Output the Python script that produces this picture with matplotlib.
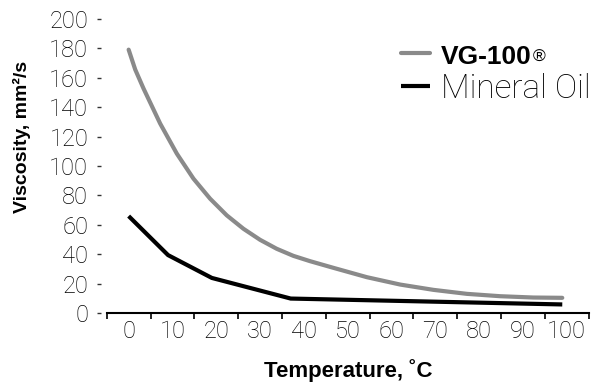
import matplotlib
matplotlib.use('Agg')
import matplotlib.pyplot as plt
import numpy as np

# 温度-粘度数据
temp_vg = [0, 1.5, 3.4, 7.2, 11, 14.8, 18.6, 22.4, 26.2, 30, 33.8, 37.6, 41.4, 46.7, 54.4, 62,
           69.6, 77.2, 84.8, 92.4, 99]
visc_vg = [179, 165.5, 152.6, 128.8, 108.4, 91.4, 77.8, 66.5, 57.4, 49.9, 43.8, 39, 35.4, 30.9,
           24.5, 19.5, 15.9, 13.2, 11.6, 10.7, 10.5]
temp_oil = [0, 9, 19, 37, 99]
visc_oil = [66, 39.5, 24, 10, 6]

x_ticks = list(range(0, 101, 10))
x_edges = list(range(-5, 106, 10))
y_ticks = list(range(0, 201, 20))

light = 'Roboto'
bold = 'Liberation Sans'

fig = plt.figure(figsize=(5.93, 3.90), dpi=100)
ax = fig.add_axes([0.18, 0.1967, 0.8125, 0.7553])

l1, = ax.plot(temp_vg, visc_vg, '-', color='#8a8a8a', lw=3, solid_capstyle='round',
              solid_joinstyle='round', clip_on=False)
l2, = ax.plot(temp_oil, visc_oil, '-', color='black', lw=3, solid_capstyle='butt',
              solid_joinstyle='miter', clip_on=False)

ax.set_xlim(-5, 105)
ax.set_ylim(0, 200)
for s in ['top', 'right']:
    ax.spines[s].set_visible(False)
ax.spines['left'].set_position(('outward', 4.3))
ax.spines['left'].set_visible(False)
ax.spines['bottom'].set_linewidth(1.5)

ax.set_xticks(x_ticks)
ax.set_xticklabels([str(v) for v in x_ticks], fontfamily=light, fontweight='light',
                   fontsize=17, color='black')
ax.set_xticks(x_edges, minor=True)
ax.tick_params(axis='x', which='major', length=0, pad=5)
ax.tick_params(axis='x', which='minor', length=4.5, width=1.2, direction='out')

ax.set_yticks(y_ticks)
ax.set_yticklabels([str(v) for v in y_ticks], fontfamily=light, fontweight='light',
                   fontsize=17, color='black')
ax.tick_params(axis='y', length=3, width=1, color='#333333', pad=6)

fig.text(0.037, 1 - 136.5 / 390, 'Viscosity, mm²/s', rotation=90, ha='center', va='center',
         fontfamily=bold, fontweight='bold', fontsize=14)
fig.text(348 / 593, 1 - 371 / 390, 'Temperature, ˚C', ha='center', va='center',
         fontfamily=bold, fontweight='bold', fontsize=16)

leg = ax.legend([l1, l2], ['VG-100', 'Mineral Oil'], loc='upper left',
                bbox_to_anchor=(401 / 593, 1 - 41 / 390), bbox_transform=fig.transFigure,
                frameon=False, borderpad=0, borderaxespad=0, handlelength=0.88,
                handletextpad=0.32, labelspacing=0.1,
                prop={'family': light, 'weight': 'light', 'size': 24})
t_vg = leg.get_texts()[0]
t_vg.set_fontfamily(bold)
t_vg.set_fontweight('bold')
t_vg.set_fontsize(19)
ax.annotate('®', xy=(1, 1), xycoords=t_vg, xytext=(1, -3), textcoords='offset points',
            ha='left', va='top', fontfamily=bold, fontsize=12.5, zorder=10)

fig.savefig('out.png', dpi=100)
